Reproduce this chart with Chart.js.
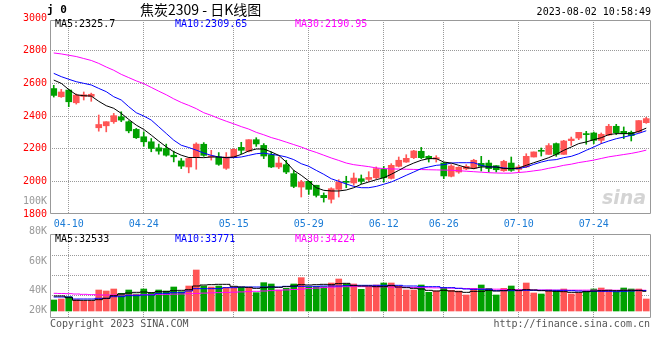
<!DOCTYPE html>
<html><head><meta charset="utf-8">
<script src="https://cdn.jsdelivr.net/npm/chart.js@4/dist/chart.umd.min.js"></script>
<style>
html,body{margin:0;padding:0;background:#fff;}
#wrap{position:relative;width:660px;height:360px;overflow:hidden;background:#fff;}
canvas{position:absolute;left:0;top:0;}
.t{position:absolute;white-space:nowrap;font-family:"DejaVu Sans Mono",monospace;font-size:10px;line-height:12px;color:#000;}
</style></head><body>
<div id="wrap">
<canvas id="pc" width="660" height="360"></canvas>
<canvas id="vc" width="660" height="360"></canvas>
<div class="t" style="left:47px;top:3px;font-size:11px;font-weight:bold;line-height:14px">j 0</div>
<div class="t" style="left:140px;top:1px;font-family:'Noto Sans CJK SC',sans-serif;font-size:14px;line-height:16px">焦炭2309 - 日K线图</div>
<div class="t" style="right:9px;top:6px">2023-08-02 10:58:49</div>
<div class="t" style="left:55px;top:18px">MA5:2325.7</div>
<div class="t" style="left:175px;top:18px;color:#0000ff">MA10:2309.65</div>
<div class="t" style="left:295px;top:18px;color:#ff00ff">MA30:2190.95</div>
<div class="t" style="left:55px;top:233px">MA5:32533</div>
<div class="t" style="left:175px;top:233px;color:#0000ff">MA10:33771</div>
<div class="t" style="left:295px;top:233px;color:#ff00ff">MA30:34224</div>
<div class="t" style="left:50px;top:318px;color:#555">Copyright 2023 SINA.COM</div>
<div class="t" style="right:10px;top:318px;color:#555">http://finance.sina.com.cn</div>
<div class="t" style="left:602px;top:186px;font-family:'DejaVu Sans',sans-serif;font-size:19px;line-height:22px;font-style:italic;font-weight:bold;color:#d4d4d4">sina</div>
</div>
<script>
const DATES = ['04-06','04-07','04-10','04-11','04-12','04-13','04-14','04-17','04-18','04-19','04-20','04-21','04-24','04-25','04-26','04-27','04-28','05-04','05-05','05-08','05-09','05-10','05-11','05-12','05-15','05-16','05-17','05-18','05-19','05-22','05-23','05-24','05-25','05-26','05-29','05-30','05-31','06-01','06-02','06-05','06-06','06-07','06-08','06-09','06-12','06-13','06-14','06-15','06-16','06-19','06-20','06-21','06-26','06-27','06-28','06-29','06-30','07-03','07-04','07-05','07-06','07-07','07-10','07-11','07-12','07-13','07-14','07-17','07-18','07-19','07-20','07-21','07-24','07-25','07-26','07-27','07-28','07-31','08-01','08-02'];
const DATE_TICKS = ['04-10','04-24','05-15','05-29','06-12','06-26','07-10','07-24'];

const OPEN  = [2568,2518,2559,2481,2520,2520,2328,2340,2365,2395,2365,2318,2273,2242,2205,2201,2160,2125,2088,2146,
               2227,2150,2149,2080,2145,2208,2184,2255,2220,2163,2088,2102,2047,1965,2000,1976,1914,1890,1951,2000,
               1990,2016,2012,2022,2073,2018,2092,2118,2145,2184,2153,2137,2112,2031,2057,2076,2080,2110,2112,2096,
               2065,2112,2073,2088,2149,2190,2165,2231,2165,2249,2265,2292,2296,2251,2284,2337,2306,2300,2302,2359];
const HIGH  = [2588,2563,2563,2535,2547,2540,2406,2365,2416,2426,2371,2324,2303,2262,2228,2228,2185,2140,2146,2236,
               2237,2190,2176,2176,2200,2239,2255,2267,2231,2180,2149,2129,2067,2006,2000,1976,1929,1961,2010,2031,
               2051,2039,2059,2088,2092,2108,2149,2163,2190,2208,2157,2157,2116,2102,2090,2102,2135,2153,2129,2096,
               2129,2149,2098,2169,2180,2204,2231,2235,2251,2271,2300,2306,2302,2296,2349,2349,2333,2308,2372,2392];
const LOW   = [2516,2514,2457,2473,2498,2490,2307,2303,2355,2365,2297,2262,2215,2181,2166,2154,2119,2078,2052,2074,
               2153,2130,2098,2073,2145,2169,2180,2214,2139,2084,2078,2047,1961,1904,1920,1904,1873,1867,1904,1961,
               1976,1986,2000,2016,1996,2014,2088,2116,2139,2139,2118,2118,2016,2027,2049,2071,2076,2063,2057,2057,
               2061,2061,2057,2084,2149,2155,2165,2153,2165,2220,2255,2227,2231,2231,2280,2286,2261,2247,2298,2355];
const CLOSE = [2526,2547,2487,2528,2530,2533,2348,2365,2402,2375,2309,2267,2242,2201,2185,2160,2150,2093,2140,2228,
               2159,2155,2104,2149,2196,2190,2255,2229,2155,2088,2112,2057,1969,1996,1951,1914,1900,1955,1996,1994,
               2020,2000,2024,2078,2022,2098,2129,2141,2186,2145,2139,2145,2033,2094,2086,2092,2129,2092,2078,2071,
               2122,2067,2088,2153,2180,2184,2219,2165,2247,2259,2300,2286,2251,2288,2337,2298,2292,2280,2372,2384];

const MA5  = [2620,2600,2562,2530,2524,2522,2490,2463,2447,2416,2379,2344,2318,2283,2246,2211,2181,2160,2146,2146,
              2145,2149,2149,2145,2149,2165,2186,2198,2198,2180,2159,2118,2067,2037,2002,1961,1945,1941,1941,1947,
              1961,1982,1996,2010,2022,2043,2067,2092,2112,2129,2139,2139,2118,2112,2098,2084,2078,2088,2088,2088,
              2078,2078,2082,2098,2114,2129,2145,2165,2190,2210,2231,2241,2255,2267,2286,2292,2292,2292,2306,2325.7];
const MA10 = [2661,2641,2625,2610,2600,2590,2569,2549,2518,2498,2457,2420,2400,2375,2334,2293,2252,2221,2207,2191,
              2173,2159,2149,2145,2145,2149,2159,2169,2173,2165,2159,2149,2133,2108,2092,2067,2043,2016,2000,1984,
              1969,1961,1961,1969,1982,1996,2016,2037,2057,2078,2088,2098,2102,2112,2114,2114,2114,2098,2088,2088,
              2082,2078,2078,2088,2104,2118,2129,2133,2145,2153,2169,2190,2210,2231,2247,2261,2271,2282,2294,2309.65];
const MA30 = [2786,2780,2772,2764,2752,2740,2722,2700,2680,2655,2635,2615,2598,2575,2552,2530,2505,2483,2465,2445,
              2420,2404,2385,2368,2352,2335,2320,2300,2285,2268,2255,2240,2225,2210,2192,2177,2160,2143,2128,2112,
              2102,2096,2090,2082,2078,2076,2075,2074,2073,2072,2071,2070,2069,2068,2065,2062,2059,2056,2053,2051,
              2050,2050,2054,2058,2064,2070,2080,2088,2098,2105,2115,2122,2130,2140,2150,2157,2164,2171,2180,2190.95];

const VOLUME = [18150,19800,23650,18700,16500,16500,34650,33000,36300,29150,34650,28050,36300,30250,34650,33000,39600,31900,41250,67650,
                41250,39600,41250,39050,39050,39050,38500,30250,46750,44550,34650,37400,44550,55000,39050,40150,40150,46200,52800,44550,
                44550,35750,39600,42900,46200,46200,41250,34650,34650,42900,30800,33000,38500,34100,33000,26400,37400,42900,37400,26400,
                37400,41250,34650,46200,29700,28050,34650,33550,36300,28050,29700,33000,36300,37950,34650,31900,37950,36300,36300,19800];
const VOL_MA5  = [24750,24750,22000,17600,17600,17600,18700,20900,25300,28050,29700,30800,31350,30250,31900,31900,33550,34100,35200,41250,
                  42900,43450,44000,44000,40700,39600,39050,37400,38500,39600,39050,40150,41250,43450,42900,43450,44000,43450,45100,45650,
                  41800,41250,41250,40150,40150,41800,39600,38500,37400,36300,34100,33000,34100,33000,31900,30800,32450,32450,34100,33000,
                  33550,35200,34100,35200,34650,33550,33000,32450,31900,30800,30800,31900,33000,33550,34100,33550,34100,34100,34100,32533];
const VOL_MA10 = [23100,23100,23100,19800,19800,19800,20900,20900,23650,23650,25300,25300,26400,26400,29150,29150,30250,30250,33000,36850,
                  36850,36850,36850,38500,38500,39600,39600,39600,39600,39600,39600,40700,40700,40700,40700,40700,41250,41250,41250,41800,
                  42350,42350,42350,42350,42350,42350,42350,41250,41250,40150,40150,40150,38500,38500,37400,36300,35750,35750,35750,33550,
                  33550,33550,33550,34100,34100,34100,34100,34100,34100,33550,33000,32450,32450,32450,32450,31900,32450,33000,33550,33771];
const VOL_MA30 = [29150,28900,28600,28000,27500,27000,26600,26400,26400,26400,26400,26600,26900,27200,27500,27500,27800,28100,28500,29000,
                  29500,30000,30300,30600,31000,31500,32000,32500,33000,33600,34200,34800,35500,36200,37000,37800,38600,39300,39800,40100,
                  40200,40200,40100,40000,39800,39600,39300,39000,38800,38600,38400,38200,38000,37700,37400,37100,36800,36500,36200,36000,
                  35700,35500,35200,35000,34800,34700,34600,34500,34500,34400,34400,34400,34300,34300,34300,34300,34250,34250,34230,34224];

const PRICE_TICKS = [1800,2000,2200,2400,2600,2800,3000];
const PRICE_GRID = [2000,2200,2400,2600,2800];
const PRICE_VOL_TICK = 1877, PRICE_VOL_LABEL = '100K';
const VOL_TICK_VALUES = [1650,34650,81345,130845];
const VOL_TICK_LABELS = ['20K','40K','60K','80K'];
const VOL_GRID = [1,2,3];

const RED = '#ff5555', GREEN = '#00a000', GRID = '#999999';
const MONO = '"DejaVu Sans Mono", monospace';
const isUp = i => CLOSE[i] >= OPEN[i];
const candleColor = c => isUp(c.dataIndex) ? RED : GREEN;

// box border + dotted grid, positioned through the chart's own scales
const framePlugin = {
  id: 'frame',
  beforeDatasetsDraw(chart, args, o) {
    const {ctx, chartArea: a} = chart;
    const top = Math.floor(a.top + o.topOffset);
    ctx.save();
    ctx.fillStyle = GRID;
    DATE_TICKS.forEach(d => {
      const x = Math.floor(chart.scales.x.getPixelForValue(DATES.indexOf(d)));
      for (let y = top + 2; y < a.bottom - 1; y += 2) ctx.fillRect(x, y, 1, 1);
    });
    o.yValues.forEach(v => {
      const y = Math.floor(chart.scales[o.yScale].getPixelForValue(v));
      for (let x = Math.floor(a.left) + 2; x < a.right - 1; x += 2) ctx.fillRect(x, y, 1, 1);
    });
    ctx.restore();
  },
  afterDraw(chart, args, o) {
    const {ctx, chartArea: a} = chart;
    ctx.save();
    ctx.strokeStyle = o.color; ctx.lineWidth = 1;
    const top = a.top + o.topOffset, l = a.left + 0.5, r = a.right + 0.5, b = a.bottom - 0.5;
    ctx.beginPath();
    ctx.moveTo(l, b); ctx.lineTo(l, top); ctx.lineTo(r, top); ctx.lineTo(r, b); ctx.lineTo(l, b);
    ctx.stroke();
    ctx.restore();
  }
};

const lineDs = (data, color, extra) => Object.assign({type:'line', data, borderColor:color, borderWidth:1,
  pointRadius:0, tension:0, fill:false, order:0}, extra || {});

new Chart(document.getElementById('pc'), {
  type: 'bar',
  plugins: [framePlugin],
  data: {
    labels: DATES,
    datasets: [
      lineDs(MA5, '#000000'),
      lineDs(MA10, '#0000ff'),
      lineDs(MA30, '#ff00ff'),
      {data: OPEN.map((o,i)=>[o, CLOSE[i]]), backgroundColor: candleColor, barThickness:6, grouped:false, minBarLength:1, order:1},
      {data: LOW.map((l,i)=>[l, HIGH[i]]), backgroundColor: candleColor, barThickness:1, grouped:false, order:2}
    ]
  },
  options: {
    responsive:false, animation:false,
    layout:{padding:{left:0,right:10,top:18,bottom:0}},
    plugins:{legend:{display:false}, tooltip:{enabled:false},
      frame:{color:'#999999', topOffset:2.5, yScale:'y', yValues:PRICE_GRID}},
    scales:{
      x:{
        offset:true,
        ticks:{autoSkip:false, maxRotation:0, minRotation:0, padding:4, color:'#1a7bd6',
          font:{family:MONO, size:10}, callback:(v,i)=> DATE_TICKS.includes(DATES[i]) ? DATES[i] : ''},
        grid:{display:false, drawTicks:false},
        border:{display:false},
        afterFit: s => { s.height = 146; }
      },
      y:{
        min:1800, max:3000,
        afterBuildTicks: s => { s.ticks = PRICE_TICKS.concat([PRICE_VOL_TICK]).sort((a,b)=>a-b).map(v=>({value:v})); },
        afterFit: s => { s.width = 50; },
        ticks:{padding:3, font:{family:MONO, size:10},
          color: c => (c.tick && c.tick.value === PRICE_VOL_TICK) ? '#999999' : '#ff0000',
          callback: v => v === PRICE_VOL_TICK ? PRICE_VOL_LABEL : String(v)},
        grid:{display:false, drawTicks:false},
        border:{display:false}
      }
    }
  }
});

const volColor = c => isUp(c.dataIndex) ? RED : GREEN;
new Chart(document.getElementById('vc'), {
  type: 'bar',
  plugins: [framePlugin],
  data: {
    labels: DATES,
    datasets: [
      lineDs(VOL_MA5, '#000000', {stepped:'middle', yAxisID:'y'}),
      lineDs(VOL_MA10, '#0000ff', {stepped:'middle', yAxisID:'y'}),
      lineDs(VOL_MA30, '#ff00ff', {stepped:'middle', yAxisID:'y'}),
      {data: VOLUME, backgroundColor: volColor, barThickness:6, grouped:false, order:1, yAxisID:'y'}
    ]
  },
  options: {
    responsive:false, animation:false,
    layout:{padding:{left:0,right:10,top:231,bottom:42}},
    plugins:{legend:{display:false}, tooltip:{enabled:false},
      frame:{color:'#999999', topOffset:3.5, yScale:'yg', yValues:VOL_GRID}},
    scales:{
      x:{
        offset:true,
        ticks:{display:false, autoSkip:false},
        grid:{display:false, drawTicks:false},
        border:{display:false},
        afterFit: s => { s.height = 0; }
      },
      y:{
        position:'left',
        min:-11550, max:132000,
        afterBuildTicks: s => { s.ticks = VOL_TICK_VALUES.map(v=>({value:v})); },
        afterFit: s => { s.width = 50; },
        ticks:{padding:3, color:'#999999', font:{family:MONO, size:10},
          callback: v => { const i = VOL_TICK_VALUES.indexOf(v); return i >= 0 ? VOL_TICK_LABELS[i] : ''; }},
        grid:{display:false, drawTicks:false},
        border:{display:false}
      },
      yg:{
        position:'right',
        min:-0.125, max:4.225,
        afterFit: s => { s.width = 0; },
        ticks:{display:false},
        grid:{display:false, drawTicks:false},
        border:{display:false}
      }
    }
  }
});
</script>
</body></html>
